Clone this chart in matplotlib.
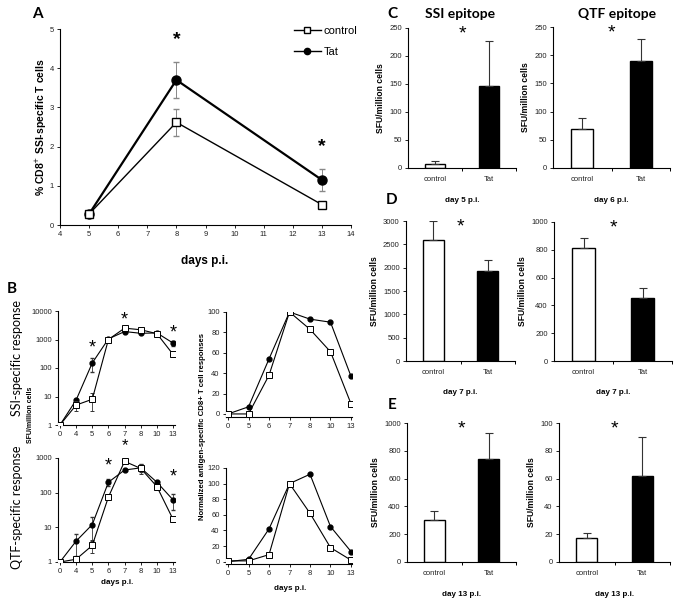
import matplotlib
matplotlib.use('Agg')
import matplotlib.pyplot as plt
from matplotlib.lines import Line2D
import numpy as np

plt.rcParams['font.family'] = ['Liberation Sans', 'DejaVu Sans']

W, H = 677, 604

# Panel A
days_a = [5, 8, 13]
ctrl_a = [0.28, 2.62, 0.52]
ctrl_a_err = [0, 0.35, 0]
tat_a = [0.28, 3.70, 1.15]
tat_a_err = [0, 0.45, 0.28]

# Panel B, SFU/million cells
cats_b = ['0', '4', '5', '6', '7', '8', '10', '13']
ssi_ctrl = [1, 5, 8, 1000, 2500, 2200, 1600, 300]
ssi_ctrl_err = [0, 2, 5, 0, 0, 0, 0, 50]
ssi_tat = [1, 7.5, 150, 1050, 1900, 1650, 1700, 750]
ssi_tat_err = [0, 1, 80, 0, 0, 0, 0, 150]
qtf_ctrl = [1, 1.2, 3, 75, 800, 500, 150, 17]
qtf_ctrl_err = [0, 0, 1.2, 15, 0, 150, 0, 3]
qtf_tat = [1, 4, 12, 200, 450, 520, 200, 62]
qtf_tat_err = [0, 2.5, 8, 40, 0, 130, 0, 30]

# Panel B, normalized
cats_n = ['0', '5', '6', '7', '8', '10', '13']
ssi_ctrl_n = [0, 0, 38, 100, 83, 61, 10]
ssi_tat_n = [0, 7, 54, 100, 93, 90, 37]
qtf_ctrl_n = [1, 1, 9, 100, 62, 18, 2]
qtf_tat_n = [0, 3, 42, 100, 112, 45, 13]

# Panels C-E
groups = ['control', 'Tat']
ssi_d5 = [8, 146]
ssi_d5_err = [5, 81]
qtf_d6 = [70, 190]
qtf_d6_err = [18, 38]
ssi_d7 = [2600, 1920]
ssi_d7_err = [400, 250]
qtf_d7 = [815, 455]
qtf_d7_err = [70, 73]
ssi_d13 = [300, 740]
ssi_d13_err = [68, 190]
qtf_d13 = [17, 62]
qtf_d13_err = [4, 28]


def box(l, t, r, b):
    return [l / W, 1 - b / H, (r - l) / W, (b - t) / H]


def ftext(x, y, s, **kw):
    kw.setdefault('ha', 'center')
    kw.setdefault('va', 'center')
    fig.text(x / W, 1 - y / H, s, **kw)


def clean(ax, fs=5.5):
    ax.spines['top'].set_visible(False)
    ax.spines['right'].set_visible(False)
    for s in ['left', 'bottom']:
        ax.spines[s].set_linewidth(0.8)
    ax.tick_params(direction='out', length=2.5, width=0.7, labelsize=fs, pad=2, colors='#222222')


fig = plt.figure(figsize=(W / 100, H / 100), dpi=100)

# ---------------- A ----------------
ax = fig.add_axes(box(60, 29, 351, 225))
clean(ax, 5.5)
ax.errorbar(days_a, ctrl_a, yerr=ctrl_a_err, color='black', lw=1.0, marker='s', ms=6,
            mfc='white', mec='black', mew=1.0, ecolor='#888888', elinewidth=0.7, capsize=2,
            zorder=3)
ax.errorbar(days_a, tat_a, yerr=tat_a_err, color='black', lw=1.6, marker='o', ms=6.5,
            mfc='black', mec='black', ecolor='#888888', elinewidth=0.7, capsize=2,
            zorder=2)
ax.set_xlim(4, 14)
ax.set_ylim(0, 5)
ax.set_xticks(range(4, 15))
ax.set_yticks(range(0, 6))
ax.text(8, 4.72, '*', fontsize=14, fontweight='bold', ha='center', va='center')
ax.text(13, 2.0, '*', fontsize=14, fontweight='bold', ha='center', va='center')
handles = [Line2D([], [], color='black', lw=1.0, marker='s', ms=4.5, mfc='white', mec='black'),
           Line2D([], [], color='black', lw=1.0, marker='o', ms=4.5, mfc='black', mec='black')]
ax.legend(handles, ['control', 'Tat'], loc='upper left', bbox_to_anchor=(284 / W, 1 - 16 / H),
          bbox_transform=fig.transFigure, frameon=False, fontsize=8, handlelength=2.4,
          handletextpad=0.25, labelspacing=1.0)
ftext(37, 14, 'A', fontsize=11, fontweight='bold', family=['Lato', 'DejaVu Sans'])
ftext(41, 127, '% CD8$^{+}$ SSI-specific T cells', fontsize=7.5, fontweight='bold', rotation=90)
ftext(205, 261, 'days p.i.', fontsize=8.5, fontweight='bold')

# ---------------- B ----------------
xb = np.arange(len(cats_b))
xn = np.arange(len(cats_n))


def bline(ax, x, ctrl, ctrl_err, tat, tat_err):
    ax.errorbar(x, tat, yerr=tat_err, color='black', lw=0.8, marker='o', ms=3.5,
                mfc='black', mec='black', ecolor='#333333', elinewidth=0.6, capsize=1.5, zorder=2)
    ax.errorbar(x, ctrl, yerr=ctrl_err, color='black', lw=0.8, marker='s', ms=4,
                mfc='white', mec='black', mew=0.7, ecolor='#333333', elinewidth=0.6, capsize=1.5, zorder=3)


ax = fig.add_axes(box(58, 311, 175, 425))
clean(ax, 5.5)
bline(ax, xb, ssi_ctrl, ssi_ctrl_err, ssi_tat, ssi_tat_err)
ax.set_yscale('log')
ax.set_ylim(1, 10000)
ax.set_yticks([1, 10, 100, 1000, 10000])
ax.set_yticklabels(['1', '10', '100', '1000', '10000'])
ax.minorticks_off()
ax.set_xlim(-0.12, 7.12)
ax.set_xticks(xb)
ax.set_xticklabels(cats_b)
for xi, yi in [(2, 500), (4, 5000), (7, 1750)]:
    ax.text(xi, yi, '*', fontsize=13, ha='center', va='center', clip_on=False)

ax = fig.add_axes(box(58, 458, 175, 562))
clean(ax, 5.5)
bline(ax, xb, qtf_ctrl, qtf_ctrl_err, qtf_tat, qtf_tat_err)
ax.set_yscale('log')
ax.set_ylim(1, 1000)
ax.set_yticks([1, 10, 100, 1000])
ax.set_yticklabels(['1', '10', '100', '1000'])
ax.minorticks_off()
ax.set_xlim(-0.12, 7.12)
ax.set_xticks(xb)
ax.set_xticklabels(cats_b)
for xi, yi, fs in [(3, 580, 13), (4, 2300, 12), (7, 290, 13)]:
    ax.text(xi, yi, '*', fontsize=fs, ha='center', va='center', clip_on=False)

ax = fig.add_axes(box(226, 312, 352, 417))
clean(ax, 5.5)
bline(ax, xn, ssi_ctrl_n, None, ssi_tat_n, None)
ax.set_ylim(-3, 100)
ax.set_yticks(range(0, 101, 20))
ax.set_xlim(-0.1, 6.05)
ax.set_xticks(xn)
ax.set_xticklabels(cats_n)

ax = fig.add_axes(box(226, 468, 352, 564))
clean(ax, 5.5)
bline(ax, xn, qtf_ctrl_n, None, qtf_tat_n, None)
ax.set_ylim(-3, 120)
ax.set_yticks(range(0, 121, 20))
ax.set_xlim(-0.1, 6.05)
ax.set_xticks(xn)
ax.set_xticklabels(cats_n)

ftext(12, 289, 'B', fontsize=11, fontweight='bold', family=['Lato', 'DejaVu Sans'])
ftext(17, 358, 'SSI-specific response', fontsize=9, rotation=90, family=['Lato', 'DejaVu Sans'])
ftext(17, 507, 'QTF-specific response', fontsize=9, rotation=90, family=['Lato', 'DejaVu Sans'])
ftext(31, 415, 'SFU/million cells', fontsize=5, fontweight='bold', rotation=90)
ftext(202, 427, 'Normalized antigen-specific CD8+ T cell responses', fontsize=5.6,
      fontweight='bold', rotation=90)
ftext(117, 583, 'days p.i.', fontsize=5.8, fontweight='bold')
ftext(290, 588, 'days p.i.', fontsize=5.8, fontweight='bold')

# ---------------- C, D, E ----------------
xg = np.arange(len(groups))


def bars(rect, vals, errs, top, step, xlab):
    ax = fig.add_axes(box(*rect))
    clean(ax, 5.5)
    ax.bar(xg, vals, width=0.38, color=['white', 'black'], edgecolor='black', linewidth=1.0,
           yerr=[[0, 0], errs], ecolor='#333333', error_kw=dict(elinewidth=0.8, capsize=3, capthick=0.8))
    ax.set_xlim(-0.5, 1.5)
    ax.set_ylim(0, top)
    ax.set_yticks(np.arange(0, top + step / 2, step))
    ax.set_xticks(xg)
    ax.set_xticklabels(groups)
    ax.tick_params(axis='x', length=0, pad=6)
    ax.set_xticks([0.5, 1.5], minor=True)
    ax.tick_params(axis='x', which='minor', direction='out', length=2.5, width=0.7)
    ax.set_ylabel('SFU/million cells', fontsize=6.2, fontweight='bold', labelpad=3)
    ax.text(0.5, top * 0.96, '*', fontsize=14, ha='center', va='center')
    l, t, r, b = rect
    ftext((l + r) / 2, b + 32, xlab, fontsize=5.8, fontweight='bold')
    return ax


bars((408, 28, 516, 168), ssi_d5, ssi_d5_err, 250, 50, 'day 5 p.i.')
bars((553, 27, 670, 168), qtf_d6, qtf_d6_err, 250, 50, 'day 6 p.i.')
bars((406, 221, 515, 361), ssi_d7, ssi_d7_err, 3000, 500, 'day 7 p.i.')
bars((554, 222, 672, 361), qtf_d7, qtf_d7_err, 1000, 200, 'day 7 p.i.')
bars((407, 423, 516, 562), ssi_d13, ssi_d13_err, 1000, 200, 'day 13 p.i.')
bars((559, 423, 670, 562), qtf_d13, qtf_d13_err, 100, 20, 'day 13 p.i.')

ftext(392, 14, 'C', fontsize=11, fontweight='bold', family=['Lato', 'DejaVu Sans'])
ftext(392, 200, 'D', fontsize=11, fontweight='bold', family=['Lato', 'DejaVu Sans'])
ftext(392, 405, 'E', fontsize=11, fontweight='bold', family=['Lato', 'DejaVu Sans'])
ftext(460, 14, 'SSI epitope', fontsize=10, fontweight='bold', family=['Lato', 'DejaVu Sans'])
ftext(617, 14, 'QTF epitope', fontsize=10, fontweight='bold', family=['Lato', 'DejaVu Sans'])

fig.savefig('out.png', dpi=100)
